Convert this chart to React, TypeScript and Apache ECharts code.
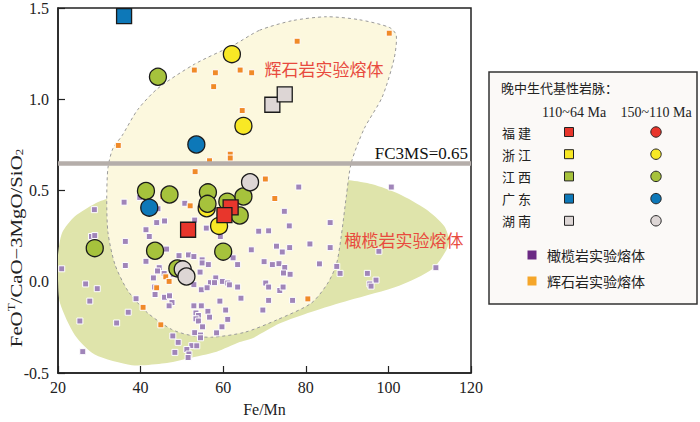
import React, { useEffect, useRef } from "react";
import * as echarts from "echarts";

// ---------- data ----------
const xTickMin = 20;
const xTickMax = 120;
const xTickStep = 20;
const yTickMin = -0.5;
const yTickMax = 1.5;
const yTickStep = 0.5;
const fc3msValue = 0.65;

// Large markers (110~64 Ma = squares, 150~110 Ma = circles)
const fujianSquares = [[51.5, 0.285], [61.8, 0.407], [60.3, 0.365]];
const zhejiangCircles = [[62.1, 1.247], [64.9, 0.854], [56.0, 0.403], [59.0, 0.306]];
const jiangxiCircles = [
  [44.2, 1.123], [41.3, 0.497], [47.0, 0.478], [56.3, 0.49], [56.2, 0.427],
  [61.0, 0.439], [64.9, 0.467], [64.0, 0.363], [60.0, 0.165], [28.9, 0.184],
  [43.5, 0.17], [48.9, 0.073],
];
const guangdongSquares = [[36.0, 1.455]];
const guangdongCircles = [[53.5, 0.752], [42.1, 0.406]];
const hunanSquares = [[71.9, 0.97], [74.9, 1.027]];
const hunanCircles = [[66.5, 0.545], [50.2, 0.068], [51.1, 0.029]];

// Experimental melts
const pyroxeniteMelts = [
  [53.0, 1.16], [58.1, 1.145], [64.1, 1.16], [66.9, 1.145], [57.7, 1.069],
  [64.6, 0.938], [34.6, 0.747], [61.7, 0.699], [61.7, 0.678], [56.7, 0.663],
  [53.2, 0.603], [77.9, 1.318], [100.2, 1.362], [70.2, 0.563], [72.5, 0.456],
  [52.0, 0.416], [45.4, 0.466], [46.1, 0.027], [46.9, 0.002], [43.9, -0.033],
  [40.6, -0.14], [44.9, -0.236], [80.5, -0.094],
];
const peridotiteMelts = [
  [36.0, 0.436], [28.8, 0.395], [28.1, 0.248], [28.9, 0.253], [41.3, 0.285],
  [42.1, 0.248], [36.3, 0.221], [43.9, 0.324], [45.8, 0.333], [50.7, 0.43],
  [46.3, 0.179], [49.3, 0.143], [51.6, 0.147], [52.9, 0.138], [54.9, 0.12],
  [54.9, 0.103], [41.3, 0.112], [36.3, 0.089], [44.5, 0.077], [44.1, 0.059],
  [20.9, 0.071], [43.1, 0.021], [47.9, 0.041], [54.4, 0.053], [26.7, -0.012],
  [29.5, -0.038], [43.4, -0.029], [52.9, -0.016], [54.7, -0.044], [43.5, -0.07],
  [45.8, -0.085], [47.0, -0.077], [47.6, -0.114], [46.9, -0.132], [38.9, -0.093],
  [27.7, -0.106], [37.0, -0.167], [25.3, -0.215], [34.2, -0.226], [52.9, -0.132],
  [54.7, -0.132], [53.4, -0.171], [54.0, -0.185], [53.4, -0.203], [54.0, -0.215],
  [55.0, -0.247], [53.1, -0.279], [54.5, -0.292], [54.5, -0.307], [47.8, -0.297],
  [49.1, -0.332], [52.4, -0.35], [53.6, -0.351], [51.2, -0.371], [51.7, -0.396],
  [51.5, -0.415], [48.3, -0.387], [26.0, -0.383], [39.8, 0.462], [44.2, 0.4],
  [78.3, 0.519], [100.7, 0.519], [74.8, 0.386], [76.0, 0.306], [85.9, 0.324],
  [68.6, 0.277], [71.0, 0.279], [66.8, 0.175], [72.9, 0.195], [74.3, 0.163],
  [76.1, 0.187], [81.0, 0.207], [85.9, 0.187], [97.7, 0.167], [69.9, 0.11],
  [71.9, 0.094], [73.5, 0.099], [74.9, 0.078], [74.6, 0.048], [76.2, 0.041],
  [83.3, 0.098], [87.5, 0.084], [88.3, 0.046], [94.9, 0.046], [97.0, 0.009],
  [95.5, -0.012], [95.8, -0.024], [111.5, 0.077], [63.5, 0.094], [62.4, 0.131],
  [59.3, 0.248], [55.9, 0.294], [53.1, 0.338], [56.4, 0.094], [58.2, 0.021],
  [56.9, -0.005], [57.9, -0.005], [59.8, 0.002], [61.1, -0.007], [61.5, -0.017],
  [63.5, -0.029], [70.3, -0.007], [71.0, -0.029], [73.7, -0.048], [74.5, -0.029],
  [56.1, -0.033], [64.3, -0.09], [59.2, -0.106], [71.0, -0.102], [76.8, -0.102],
  [56.3, -0.162], [60.6, -0.155], [61.1, -0.206], [69.6, -0.155], [56.7, -0.194],
  [59.7, -0.247], [58.4, -0.28], [45.7, 0.045],
];

// Field outlines
const peridotiteField = [
  [32.1, 0.455], [28.9, 0.428], [24.1, 0.359], [21.0, 0.269], [20.0, 0.147],
  [20.0, 0.015], [20.5, -0.118], [24.1, -0.293], [28.9, -0.399], [37.9, -0.457],
  [45.8, -0.447], [51.4, -0.42], [58.4, -0.383], [64.0, -0.33], [67.1, -0.309],
  [73.6, -0.229], [81.3, -0.166], [90.5, -0.102], [102.6, -0.022], [110.6, 0.068],
  [113.9, 0.168], [114.7, 0.227], [113.5, 0.306], [109.1, 0.397], [102.6, 0.481],
  [96.1, 0.534], [90.5, 0.556], [78.4, 0.572], [54.3, 0.545],
];
const pyroxeniteField = [
  [68.8, 1.378], [76.8, 1.431], [85.0, 1.452], [92.9, 1.436], [100.2, 1.394],
  [101.9, 1.351], [101.4, 1.224], [98.5, 1.012], [94.1, 0.837], [91.0, 0.651],
  [89.8, 0.466], [88.6, 0.253], [87.4, 0.094], [85.2, -0.012], [81.3, -0.118],
  [73.1, -0.208], [65.2, -0.277], [57.2, -0.304], [51.9, -0.293], [47.5, -0.261],
  [41.7, -0.171], [36.9, -0.049], [33.8, 0.094], [32.1, 0.269], [31.8, 0.45],
  [32.1, 0.625], [33.3, 0.731], [35.5, 0.8], [39.3, 0.943], [44.2, 1.06],
  [53.1, 1.193], [62.7, 1.299],
];

const legendRows = ["福建", "浙江", "江西", "广东", "湖南"];
const legendColors = ["#e8362c", "#f8e825", "#a6c23c", "#0d78b8", "#ddd6d5"];
const legendColumns = ["110~64 Ma", "150~110 Ma"];

// ---------- styles ----------
const SERIF = "'Liberation Serif', 'Times New Roman', serif";
const CJK = "'Noto Sans CJK SC', sans-serif";
const RED = legendColors[0];
const YELLOW = legendColors[1];
const GREEN = legendColors[2];
const BLUE = legendColors[3];
const GRAY = legendColors[4];

function fieldSeries(points: number[][], fill: string, stroke?: string) {
  return {
    type: "custom",
    coordinateSystem: "cartesian2d",
    silent: true,
    clip: true,
    data: [points[0]],
    renderItem: (_params: any, api: any) => ({
      type: "polygon",
      shape: { points: points.map((p) => api.coord(p)), smooth: 0.25 },
      style: stroke
        ? { fill, stroke, lineWidth: 1, lineDash: [3, 3] }
        : { fill },
    }),
  };
}

function markerSeries(data: number[][], symbol: string, color: string, size: number) {
  return {
    type: "scatter",
    data,
    symbol,
    symbolSize: size,
    itemStyle: { color, borderColor: "#1a1a1a", borderWidth: 1.3, opacity: 1 },
    silent: true,
  };
}

function meltSeries(data: number[][], color: string) {
  return {
    type: "scatter",
    data,
    symbol: "rect",
    symbolSize: 6,
    itemStyle: { color, borderColor: "#ffffff", borderWidth: 1, opacity: 1 },
    silent: true,
  };
}

export default function App() {
  const ref = useRef<HTMLDivElement>(null);

  useEffect(() => {
    if (!ref.current) return;
    const chart = echarts.init(ref.current, undefined, { renderer: "svg" });

    const legendX = 489;
    const legendY = 72;
    const rowY0 = 132;
    const rowStep = 22.2;
    const legendGraphics: any[] = [
      {
        type: "rect",
        shape: { x: legendX, y: legendY, width: 208, height: 232 },
        style: { fill: "#fbf9f7", stroke: "#333", lineWidth: 1.5 },
      },
      {
        type: "text",
        x: 501,
        y: 87,
        style: { text: "晚中生代基性岩脉：", font: `13px ${CJK}`, fill: "#222", textVerticalAlign: "middle" },
      },
      {
        type: "text",
        x: 574,
        y: 112,
        style: { text: legendColumns[0], font: `14px ${SERIF}`, fill: "#222", textAlign: "center", textVerticalAlign: "middle" },
      },
      {
        type: "text",
        x: 656,
        y: 112,
        style: { text: legendColumns[1], font: `14px ${SERIF}`, fill: "#222", textAlign: "center", textVerticalAlign: "middle" },
      },
    ];
    legendRows.forEach((name, i) => {
      const y = rowY0 + i * rowStep;
      legendGraphics.push(
        {
          type: "text",
          x: 502,
          y,
          style: { text: name.split("").join(" "), font: `13px ${CJK}`, fill: "#222", textVerticalAlign: "middle" },
        },
        {
          type: "rect",
          shape: { x: 569 - 4.5, y: y - 4.5, width: 9, height: 9 },
          style: { fill: legendColors[i], stroke: "#222", lineWidth: 1 },
        },
        {
          type: "circle",
          shape: { cx: 656, cy: y, r: 5.2 },
          style: { fill: legendColors[i], stroke: "#222", lineWidth: 1 },
        }
      );
    });
    legendGraphics.push(
      {
        type: "rect",
        shape: { x: 532 - 4.5, y: 255 - 4.5, width: 9, height: 9 },
        style: { fill: "#6b2a84" },
      },
      {
        type: "text",
        x: 547,
        y: 255,
        style: { text: "橄榄岩实验熔体", font: `14px ${CJK}`, fill: "#222", textVerticalAlign: "middle" },
      },
      {
        type: "rect",
        shape: { x: 532 - 4.5, y: 281 - 4.5, width: 9, height: 9 },
        style: { fill: "#f5a62a" },
      },
      {
        type: "text",
        x: 547,
        y: 281,
        style: { text: "辉石岩实验熔体", font: `14px ${CJK}`, fill: "#222", textVerticalAlign: "middle" },
      }
    );

    const option: any = {
      animation: false,
      backgroundColor: "#ffffff",
      grid: {
        left: 58,
        top: 5,
        right: 229,
        bottom: 40,
        show: true,
        borderColor: "#222",
        borderWidth: 1.5,
        backgroundColor: "transparent",
      },
      xAxis: {
        type: "value",
        min: xTickMin,
        max: xTickMax,
        interval: xTickStep,
        name: "Fe/Mn",
        nameLocation: "middle",
        nameGap: 28,
        nameTextStyle: { fontFamily: SERIF, fontSize: 16, color: "#222" },
        axisLine: { onZero: false, lineStyle: { color: "#222", width: 1.5 } },
        axisTick: { inside: true, length: 7, lineStyle: { color: "#222", width: 1.2 } },
        axisLabel: { fontFamily: SERIF, fontSize: 16, color: "#222", margin: 6 },
        splitLine: { show: false },
      },
      yAxis: {
        type: "value",
        min: yTickMin,
        max: yTickMax,
        interval: yTickStep,
        axisLine: { onZero: false, lineStyle: { color: "#222", width: 1.5 } },
        axisTick: { inside: true, length: 7, lineStyle: { color: "#222", width: 1.2 } },
        axisLabel: {
          fontFamily: SERIF,
          fontSize: 16,
          color: "#222",
          margin: 9,
          formatter: (v: number) => v.toFixed(1),
        },
        splitLine: { show: false },
      },
      series: [
        fieldSeries(peridotiteField, "#dfe4ab"),
        fieldSeries(pyroxeniteField, "#fcf8de", "#9a9a9a"),
        meltSeries(peridotiteMelts, "#a085b9"),
        meltSeries(pyroxeniteMelts, "#f08a28"),
        {
          type: "line",
          data: [],
          silent: true,
          markLine: {
            silent: true,
            symbol: ["none", "none"],
            label: { show: false },
            lineStyle: { color: "#b5aeaa", width: 4.5, type: "solid" },
            data: [{ yAxis: fc3msValue }],
          },
        },
        markerSeries(zhejiangCircles, "circle", YELLOW, 17),
        markerSeries(jiangxiCircles, "circle", GREEN, 17),
        markerSeries(guangdongCircles, "circle", BLUE, 17),
        markerSeries(hunanCircles, "circle", GRAY, 17),
        markerSeries(fujianSquares, "rect", RED, 15),
        markerSeries(guangdongSquares, "rect", BLUE, 15),
        markerSeries(hunanSquares, "rect", GRAY, 15),
      ],
      graphic: [
        {
          type: "text",
          x: 324,
          y: 68,
          z: 100,
          style: { text: "辉石岩实验熔体", font: `17px ${CJK}`, fill: "#e84a3e", textAlign: "center", textVerticalAlign: "middle" },
        },
        {
          type: "text",
          x: 404,
          y: 239,
          z: 100,
          style: { text: "橄榄岩实验熔体", font: `17px ${CJK}`, fill: "#e84a3e", textAlign: "center", textVerticalAlign: "middle" },
        },
        {
          type: "text",
          x: 468,
          y: 153,
          z: 100,
          style: { text: "FC3MS=0.65", font: `17px ${SERIF}`, fill: "#111", textAlign: "right", textVerticalAlign: "middle" },
        },
        {
          type: "text",
          x: 16,
          y: 248,
          z: 100,
          rotation: Math.PI / 2,
          scaleX: 1.3,
          style: {
            text: "{a|FeO}{sup|T}{a|/CaO−3MgO/SiO}{sub|2}",
            textAlign: "center",
            textVerticalAlign: "middle",
            fill: "#222",
            rich: {
              a: { fontFamily: SERIF, fontSize: 16, fill: "#222" },
              sup: { fontFamily: SERIF, fontSize: 10, fill: "#222", padding: [0, 0, 9, 0] },
              sub: { fontFamily: SERIF, fontSize: 10, fill: "#222", padding: [7, 0, 0, 0] },
            },
          },
        },
        ...legendGraphics.map((g) => ({ ...g, z: 100 })),
      ],
    };

    chart.setOption(option);
    return () => chart.dispose();
  }, []);

  return (
    <div
      ref={ref}
      style={{ position: "fixed", left: 0, top: 0, width: 700, height: 422, background: "#fff" }}
    />
  );
}
